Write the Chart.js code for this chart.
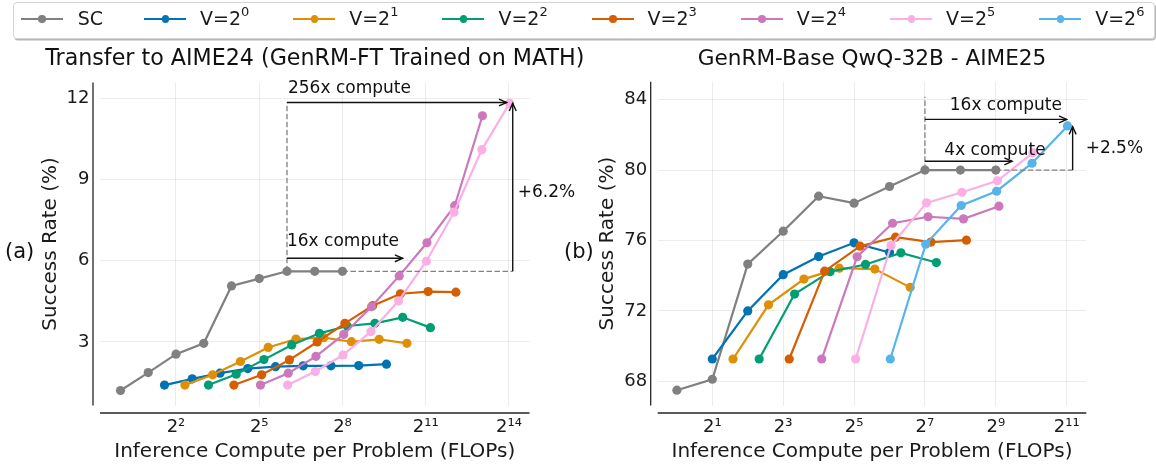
<!DOCTYPE html>
<html>
<head>
<meta charset="utf-8">
<script src="https://cdn.jsdelivr.net/npm/chart.js@4.4.1/dist/chart.umd.min.js"></script>
<style>
html,body{margin:0;padding:0;background:#fff;}
body{width:1156px;height:467px;position:relative;overflow:hidden;font-family:"DejaVu Sans",sans-serif;color:#1a1a1a;}
#cA{position:absolute;left:0;top:0;}
#cB{position:absolute;left:540px;top:0;}
#legendBox{position:absolute;left:13px;top:2px;width:1140px;height:35px;border:1px solid #d4d4d4;border-radius:4px;box-shadow:1px 1.5px 0 #b8b8b8;background:rgba(255,255,255,0.9);}
.li{position:absolute;top:0;height:38px;}
.li .ln{position:absolute;top:17.5px;left:0;width:42px;height:2.2px;}
.li .dt{position:absolute;top:15px;left:17.5px;width:7.5px;height:7.5px;border-radius:50%;}
.li .tx{position:absolute;left:56px;top:7px;font-size:19px;line-height:22px;white-space:nowrap;color:#1a1a1a;}
.li .tx sup{font-size:13px;position:relative;top:-2px;vertical-align:top;line-height:13px;}
</style>
</head>
<body>
<canvas id="cA" width="620" height="467"></canvas>
<canvas id="cB" width="616" height="467"></canvas>
<div id="legendBox"></div>
<div id="legend"></div>
<script>
// ---------- series names / colours ----------
const SERIES_LABELS = ['SC', 'V=2^0', 'V=2^1', 'V=2^2', 'V=2^3', 'V=2^4', 'V=2^5', 'V=2^6'];
const SERIES_COLORS = ['#808080', '#0173B2', '#DE8F05', '#029E73', '#D55E00', '#CC78BC', '#FBAFE4', '#56B4E9'];

// ---------- panel (a): Transfer to AIME24 ----------
const A_SC_X = [1, 2, 4, 8, 16, 32, 64, 128, 256];
const A_SC_Y = [1.21, 1.87, 2.55, 2.95, 5.07, 5.34, 5.61, 5.61, 5.61];
const A_V0_X = [3, 6, 12, 24, 48, 96, 192, 384, 768];
const A_V0_Y = [1.41, 1.64, 1.85, 2.02, 2.09, 2.12, 2.12, 2.13, 2.18];
const A_V1_X = [5, 10, 20, 40, 80, 160, 320, 640, 1280];
const A_V1_Y = [1.41, 1.79, 2.28, 2.80, 3.11, 3.16, 3.01, 3.10, 2.95];
const A_V2_X = [9, 18, 36, 72, 144, 288, 576, 1152, 2304];
const A_V2_Y = [1.41, 1.81, 2.35, 2.89, 3.32, 3.59, 3.69, 3.91, 3.53];
const A_V3_X = [17, 34, 68, 136, 272, 544, 1088, 2176, 4352];
const A_V3_Y = [1.41, 1.79, 2.34, 3.00, 3.69, 4.34, 4.78, 4.86, 4.84];
const A_V4_X = [33, 66, 132, 264, 528, 1056, 2112, 4224, 8448];
const A_V4_Y = [1.41, 1.85, 2.47, 3.28, 4.30, 5.44, 6.66, 8.03, 11.35];
const A_V5_X = [65, 130, 260, 520, 1040, 2080, 4160, 8320, 16640];
const A_V5_Y = [1.41, 1.91, 2.52, 3.38, 4.52, 5.98, 7.79, 10.10, 11.81];
const A_X_TICKS = [4, 32, 256, 2048, 16384];
const A_Y_TICKS = [3, 6, 9, 12];

// ---------- panel (b): GenRM-Base QwQ-32B - AIME25 ----------
const B_SC_X = [1, 2, 4, 8, 16, 32, 64, 128, 256, 512];
const B_SC_Y = [67.5, 68.12, 74.66, 76.53, 78.52, 78.12, 79.07, 80.0, 80.0, 80.0];
const B_V0_X = [2, 4, 8, 16, 32, 64];
const B_V0_Y = [69.27, 72.0, 74.06, 75.09, 75.87, 75.32];
const B_V1_X = [3, 6, 12, 24, 48, 96];
const B_V1_Y = [69.27, 72.35, 73.81, 74.43, 74.38, 73.34];
const B_V2_X = [5, 10, 20, 40, 80, 160];
const B_V2_Y = [69.27, 72.96, 74.23, 74.64, 75.30, 74.75];
const B_V3_X = [9, 18, 36, 72, 144, 288];
const B_V3_Y = [69.27, 74.26, 75.68, 76.19, 75.91, 76.02];
const B_V4_X = [17, 34, 68, 136, 272, 544];
const B_V4_Y = [69.27, 75.08, 76.98, 77.35, 77.23, 77.95];
const B_V5_X = [33, 66, 132, 264, 528, 1056];
const B_V5_Y = [69.27, 75.72, 78.14, 78.74, 79.39, 80.98];
const B_V6_X = [65, 130, 260, 520, 1040, 2080];
const B_V6_Y = [69.27, 75.79, 77.99, 78.80, 80.39, 82.51];
const B_X_TICKS = [2, 8, 32, 128, 512, 2048];
const B_Y_TICKS = [68, 72, 76, 80, 84];

// ---------- annotations (data coordinates) ----------
const A_NOTES = {
  dashed: [[[64, 5.61], [64, 11.84]], [[256, 5.61], [18000, 5.61]]],
  arrows: [[[64, 11.84], [15500, 11.84]], [[64, 6.09], [1150, 6.09]], [[18000, 5.61], [18000, 11.81]]],
  texts: [
    {t: '256x compute', x: 64, y: 12.18, dx: 1, base: 'alphabetic'},
    {t: '16x compute', x: 64, y: 6.53, dx: 0, base: 'alphabetic'},
    {t: '+6.2%', x: 18000, y: 8.51, dx: 5, base: 'middle'}
  ],
  panel: '(a)'
};
const B_NOTES = {
  dashed: [[[128, 80], [128, 84.17]], [[512, 80], [2300, 80]]],
  arrows: [[[128, 82.88], [2048, 82.88]], [[128, 80.5], [704, 80.5]], [[2300, 80], [2300, 82.47]]],
  texts: [
    {t: '16x compute', x: 208, y: 83.42, dx: 0, base: 'alphabetic'},
    {t: '4x compute', x: 187, y: 80.88, dx: 0, base: 'alphabetic'},
    {t: '+2.5%', x: 2300, y: 81.25, dx: 13, base: 'middle'}
  ],
  panel: '(b)'
};

const SUP = {'0':'⁰','1':'¹','2':'²','3':'³','4':'⁴','5':'⁵','6':'⁶','7':'⁷','8':'⁸','9':'⁹'};
const supStr = s => String(s).split('').map(c => SUP[c] || c).join('');
const uniLabel = l => l.replace(/\^(\d+)/, (m, d) => supStr(d));
const htmlLabel = l => l.replace(/\^(\d+)/, '<sup>$1</sup>');

// ---------- legend (HTML) ----------
const LEGEND_X = [20.7, 144, 293.2, 442.4, 591.6, 740.8, 890, 1039.2];
const legend = document.getElementById('legend');
SERIES_LABELS.forEach((lab, i) => {
  const d = document.createElement('div');
  d.className = 'li';
  d.style.left = LEGEND_X[i] + 'px';
  d.innerHTML = '<div class="ln" style="background:' + SERIES_COLORS[i] + '"></div>' +
    '<div class="dt" style="background:' + SERIES_COLORS[i] + '"></div>' +
    '<div class="tx"' + (i === 0 ? ' style="left:57px"' : '') + '>' + htmlLabel(lab) + '</div>';
  legend.appendChild(d);
});

// ---------- helpers ----------
Chart.defaults.font.family = "'DejaVu Sans', sans-serif";
Chart.defaults.color = '#1a1a1a';

function mk(idx, xs, ys, total) {
  return {
    label: uniLabel(SERIES_LABELS[idx]),
    data: xs.map((x, i) => ({x: x, y: ys[i]})),
    borderColor: SERIES_COLORS[idx],
    backgroundColor: SERIES_COLORS[idx],
    borderWidth: 2.2,
    pointRadius: 4.6,
    pointHoverRadius: 4.6,
    pointBorderWidth: 0,
    tension: 0,
    order: total - idx
  };
}

function arrowHead(ctx, x0, y0, x1, y1) {
  const a = Math.atan2(y1 - y0, x1 - x0), L = 8.5, w = 0.42;
  ctx.beginPath();
  ctx.moveTo(x1 - L * Math.cos(a - w), y1 - L * Math.sin(a - w));
  ctx.lineTo(x1, y1);
  ctx.lineTo(x1 - L * Math.cos(a + w), y1 - L * Math.sin(a + w));
  ctx.stroke();
}

const notesPlugin = {
  id: 'notes',
  afterDraw(chart) {
    const notes = chart.options.plugins.notes;
    const {ctx, chartArea: ca, scales: {x, y}} = chart;
    const P = (pt) => [x.getPixelForValue(pt[0]), y.getPixelForValue(pt[1])];
    ctx.save();
    // spines (offset, seaborn-despine style)
    ctx.strokeStyle = '#262626';
    ctx.lineWidth = 1.3;
    ctx.beginPath();
    ctx.moveTo(ca.left - 7, ca.top);
    ctx.lineTo(ca.left - 7, ca.bottom);
    ctx.moveTo(ca.left, ca.bottom + 7.5);
    ctx.lineTo(ca.right, ca.bottom + 7.5);
    ctx.stroke();
    // dashed guides
    ctx.strokeStyle = '#808080';
    ctx.lineWidth = 1.3;
    ctx.setLineDash([5.5, 2.5]);
    notes.dashed.forEach(seg => {
      const a = P(seg[0]), b = P(seg[1]);
      ctx.beginPath(); ctx.moveTo(a[0], a[1]); ctx.lineTo(b[0], b[1]); ctx.stroke();
    });
    ctx.setLineDash([]);
    // arrows
    ctx.strokeStyle = '#111';
    ctx.lineWidth = 1.4;
    notes.arrows.forEach(seg => {
      const a = P(seg[0]), b = P(seg[1]);
      ctx.beginPath(); ctx.moveTo(a[0], a[1]); ctx.lineTo(b[0], b[1]); ctx.stroke();
      arrowHead(ctx, a[0], a[1], b[0], b[1]);
    });
    // texts
    ctx.fillStyle = '#111';
    ctx.font = "17px 'DejaVu Sans'";
    ctx.textAlign = 'left';
    notes.texts.forEach(t => {
      const p = P([t.x, t.y]);
      ctx.textBaseline = t.base;
      ctx.fillText(t.t, p[0] + t.dx, p[1]);
    });
    // panel label
    ctx.font = "21px 'DejaVu Sans'";
    ctx.textBaseline = 'middle';
    ctx.fillText(notes.panel, notes.panelX, notes.panelY);
    ctx.restore();
  }
};

function makeChart(id, cfg) {
  const gridCol = 'rgba(0,0,0,0.075)';
  const scales = {
    x: {
      type: 'logarithmic', min: cfg.xMin, max: cfg.xMax,
      afterBuildTicks: s => { s.ticks = cfg.xTicks.map(v => ({value: v})); },
      afterFit: s => { s.height = 61.5; },
      grid: {color: gridCol, lineWidth: 1, drawTicks: false},
      border: {display: false},
      ticks: {font: {size: 18}, color: '#1a1a1a', padding: 11, maxRotation: 0, autoSkip: false,
              callback: v => '2' + supStr(Math.round(Math.log2(v)))},
      title: {display: true, text: 'Inference Compute per Problem (FLOPs)', font: {size: 20}, color: '#1a1a1a',
              padding: {top: 0, bottom: 3.3}}
    },
    y: {
      type: 'linear', min: cfg.yMin, max: cfg.yMax,
      afterBuildTicks: s => { s.ticks = cfg.yTicks.map(v => ({value: v})); },
      afterFit: s => { s.width = cfg.yWidth; },
      grid: {color: gridCol, lineWidth: 1, drawTicks: false},
      border: {display: false},
      ticks: {font: {size: 18}, color: '#1a1a1a', padding: 10.5, callback: v => String(v)},
      title: {display: true, text: 'Success Rate (%)', font: {size: 20}, color: '#1a1a1a',
              padding: {top: cfg.yTitlePad, bottom: 0}}
    }
  };
  if (cfg.rightSpacer) {
    // empty right-hand axis that only reserves room, so the title centres over the plot
    scales.ySpacer = {
      type: 'linear', position: 'right', min: 0, max: 1,
      afterFit: s => { s.width = cfg.rightSpacer; },
      grid: {display: false}, border: {display: false},
      ticks: {display: false}, title: {display: false}
    };
  }
  return new Chart(document.getElementById(id), {
    type: 'line',
    data: {datasets: cfg.datasets},
    plugins: [notesPlugin],
    options: {
      responsive: false,
      animation: false,
      events: [],
      devicePixelRatio: 1,
      layout: {padding: {left: cfg.padLeft, right: cfg.padRight, top: 36, bottom: 0}},
      plugins: {
        legend: {display: false},
        tooltip: {enabled: false},
        title: {display: true, fullSize: cfg.titleFull, text: cfg.title, font: {size: cfg.titleSize, weight: 'normal'}, color: '#111',
                padding: {top: 10.4, bottom: 9.4}},
        notes: Object.assign({panelX: cfg.panelX, panelY: 253}, cfg.notes)
      },
      scales: scales
    }
  });
}

makeChart('cA', {
  title: 'Transfer to AIME24 (GenRM-FT Trained on MATH)', titleSize: 22.2, titleFull: true,
  datasets: [
    mk(0, A_SC_X, A_SC_Y, 8), mk(1, A_V0_X, A_V0_Y, 8), mk(2, A_V1_X, A_V1_Y, 8), mk(3, A_V2_X, A_V2_Y, 8),
    mk(4, A_V3_X, A_V3_Y, 8), mk(5, A_V4_X, A_V4_Y, 8), mk(6, A_V5_X, A_V5_Y, 8)
  ],
  xMin: Math.pow(2, -0.739), xMax: Math.pow(2, 14.74), xTicks: A_X_TICKS,
  yMin: 0.656, yMax: 12.58, yTicks: A_Y_TICKS,
  padLeft: 30, padRight: 20.5, yWidth: 70, yTitlePad: 8.7, rightSpacer: 70,
  panelX: 5, notes: A_NOTES
});

makeChart('cB', {
  title: 'GenRM-Base QwQ-32B - AIME25', titleSize: 21.6, titleFull: false,
  datasets: [
    mk(0, B_SC_X, B_SC_Y, 8), mk(1, B_V0_X, B_V0_Y, 8), mk(2, B_V1_X, B_V1_Y, 8), mk(3, B_V2_X, B_V2_Y, 8),
    mk(4, B_V3_X, B_V3_Y, 8), mk(5, B_V4_X, B_V4_Y, 8), mk(6, B_V5_X, B_V5_Y, 8), mk(7, B_V6_X, B_V6_Y, 8)
  ],
  xMin: Math.pow(2, -0.541), xMax: Math.pow(2, 11.553), xTicks: B_X_TICKS,
  yMin: 66.63, yMax: 85.02, yTicks: B_Y_TICKS,
  padLeft: 40, padRight: 69.7, yWidth: 77.7, yTitlePad: 16,
  panelX: 24, notes: B_NOTES
});
</script>
</body>
</html>
